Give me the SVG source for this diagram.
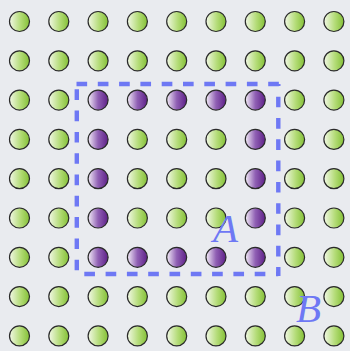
<svg xmlns="http://www.w3.org/2000/svg" width="350" height="351" viewBox="0 0 350 351">
<defs>
<linearGradient id="g" x1="0" y1="0" x2="1" y2="0">
<stop offset="0" stop-color="#f2f8e6"/>
<stop offset="0.55" stop-color="#b4dc78"/>
<stop offset="1" stop-color="#84c036"/>
</linearGradient>
<linearGradient id="p" x1="0" y1="0" x2="1" y2="0">
<stop offset="0" stop-color="#f4eef8"/>
<stop offset="0.5" stop-color="#9060b4"/>
<stop offset="1" stop-color="#5e2088"/>
</linearGradient>
<style>
.n{stroke:#2a2a2a;stroke-width:1.2}
.gr{fill:url(#g)}
.pu{fill:url(#p)}
.lab{font-family:"Liberation Serif",serif;font-style:italic;font-size:41px;fill:#6e78f4}
.d{fill:none;stroke:#6e78f4;stroke-width:4.4;stroke-dasharray:10.65 10.65}
</style>
</defs>
<rect width="350" height="351" fill="#e9ebef"/>
<g id="nodes">
<g id="r0">
<circle class="n gr" cx="19.5" cy="21.5" r="10"/><circle class="n gr" cx="58.8" cy="21.5" r="10"/><circle class="n gr" cx="98.1" cy="21.5" r="10"/><circle class="n gr" cx="137.4" cy="21.5" r="10"/><circle class="n gr" cx="176.7" cy="21.5" r="10"/><circle class="n gr" cx="216" cy="21.5" r="10"/><circle class="n gr" cx="255.3" cy="21.5" r="10"/><circle class="n gr" cx="294.6" cy="21.5" r="10"/><circle class="n gr" cx="333.9" cy="21.5" r="10"/>
</g>
<g id="r1">
<circle class="n gr" cx="19.5" cy="60.8" r="10"/><circle class="n gr" cx="58.8" cy="60.8" r="10"/><circle class="n gr" cx="98.1" cy="60.8" r="10"/><circle class="n gr" cx="137.4" cy="60.8" r="10"/><circle class="n gr" cx="176.7" cy="60.8" r="10"/><circle class="n gr" cx="216" cy="60.8" r="10"/><circle class="n gr" cx="255.3" cy="60.8" r="10"/><circle class="n gr" cx="294.6" cy="60.8" r="10"/><circle class="n gr" cx="333.9" cy="60.8" r="10"/>
</g>
<g id="r2">
<circle class="n gr" cx="19.5" cy="100.1" r="10"/><circle class="n gr" cx="58.8" cy="100.1" r="10"/><circle class="n pu" cx="98.1" cy="100.1" r="10"/><circle class="n pu" cx="137.4" cy="100.1" r="10"/><circle class="n pu" cx="176.7" cy="100.1" r="10"/><circle class="n pu" cx="216" cy="100.1" r="10"/><circle class="n pu" cx="255.3" cy="100.1" r="10"/><circle class="n gr" cx="294.6" cy="100.1" r="10"/><circle class="n gr" cx="333.9" cy="100.1" r="10"/>
</g>
<g id="r3">
<circle class="n gr" cx="19.5" cy="139.4" r="10"/><circle class="n gr" cx="58.8" cy="139.4" r="10"/><circle class="n pu" cx="98.1" cy="139.4" r="10"/><circle class="n gr" cx="137.4" cy="139.4" r="10"/><circle class="n gr" cx="176.7" cy="139.4" r="10"/><circle class="n gr" cx="216" cy="139.4" r="10"/><circle class="n pu" cx="255.3" cy="139.4" r="10"/><circle class="n gr" cx="294.6" cy="139.4" r="10"/><circle class="n gr" cx="333.9" cy="139.4" r="10"/>
</g>
<g id="r4">
<circle class="n gr" cx="19.5" cy="178.7" r="10"/><circle class="n gr" cx="58.8" cy="178.7" r="10"/><circle class="n pu" cx="98.1" cy="178.7" r="10"/><circle class="n gr" cx="137.4" cy="178.7" r="10"/><circle class="n gr" cx="176.7" cy="178.7" r="10"/><circle class="n gr" cx="216" cy="178.7" r="10"/><circle class="n pu" cx="255.3" cy="178.7" r="10"/><circle class="n gr" cx="294.6" cy="178.7" r="10"/><circle class="n gr" cx="333.9" cy="178.7" r="10"/>
</g>
<g id="r5">
<circle class="n gr" cx="19.5" cy="218" r="10"/><circle class="n gr" cx="58.8" cy="218" r="10"/><circle class="n pu" cx="98.1" cy="218" r="10"/><circle class="n gr" cx="137.4" cy="218" r="10"/><circle class="n gr" cx="176.7" cy="218" r="10"/><circle class="n gr" cx="216" cy="218" r="10"/><circle class="n pu" cx="255.3" cy="218" r="10"/><circle class="n gr" cx="294.6" cy="218" r="10"/><circle class="n gr" cx="333.9" cy="218" r="10"/>
</g>
<g id="r6">
<circle class="n gr" cx="19.5" cy="257.3" r="10"/><circle class="n gr" cx="58.8" cy="257.3" r="10"/><circle class="n pu" cx="98.1" cy="257.3" r="10"/><circle class="n pu" cx="137.4" cy="257.3" r="10"/><circle class="n pu" cx="176.7" cy="257.3" r="10"/><circle class="n pu" cx="216" cy="257.3" r="10"/><circle class="n pu" cx="255.3" cy="257.3" r="10"/><circle class="n gr" cx="294.6" cy="257.3" r="10"/><circle class="n gr" cx="333.9" cy="257.3" r="10"/>
</g>
<g id="r7">
<circle class="n gr" cx="19.5" cy="296.6" r="10"/><circle class="n gr" cx="58.8" cy="296.6" r="10"/><circle class="n gr" cx="98.1" cy="296.6" r="10"/><circle class="n gr" cx="137.4" cy="296.6" r="10"/><circle class="n gr" cx="176.7" cy="296.6" r="10"/><circle class="n gr" cx="216" cy="296.6" r="10"/><circle class="n gr" cx="255.3" cy="296.6" r="10"/><circle class="n gr" cx="294.6" cy="296.6" r="10"/><circle class="n gr" cx="333.9" cy="296.6" r="10"/>
</g>
<g id="r8">
<circle class="n gr" cx="19.5" cy="335.9" r="10"/><circle class="n gr" cx="58.8" cy="335.9" r="10"/><circle class="n gr" cx="98.1" cy="335.9" r="10"/><circle class="n gr" cx="137.4" cy="335.9" r="10"/><circle class="n gr" cx="176.7" cy="335.9" r="10"/><circle class="n gr" cx="216" cy="335.9" r="10"/><circle class="n gr" cx="255.3" cy="335.9" r="10"/><circle class="n gr" cx="294.6" cy="335.9" r="10"/><circle class="n gr" cx="333.9" cy="335.9" r="10"/>
</g>
</g>
<g id="region-A">
<line class="d" x1="76.5" y1="84" x2="280.5" y2="84"/>
<line class="d" x1="278.3" y1="84" x2="278.3" y2="276" style="stroke-dashoffset:8.6"/>
<line class="d" x1="76.5" y1="274" x2="278.3" y2="274" style="stroke-dashoffset:13.5"/>
<line class="d" x1="76.8" y1="84" x2="76.8" y2="272" style="stroke-dashoffset:16"/>
<text class="lab" x="213" y="242">A</text>
</g>
<g id="label-B">
<text class="lab" x="296" y="322">B</text>
</g>
</svg>
